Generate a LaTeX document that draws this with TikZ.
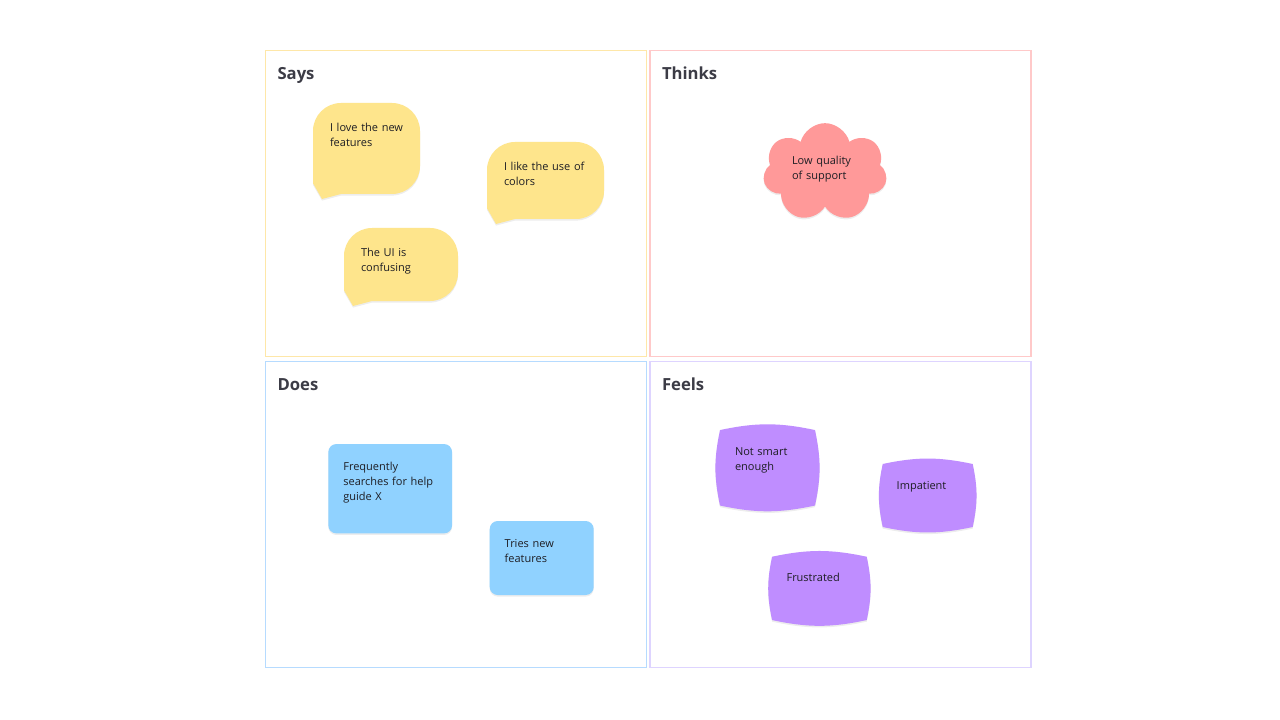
\documentclass[tikz,border=0pt]{standalone}
\usepackage{fontspec}
\setmainfont{Open Sans}
\usetikzlibrary{positioning,shapes.symbols,shadows}
\definecolor{sayfill}{RGB}{254,229,140}
\definecolor{sayline}{RGB}{254,231,168}
\definecolor{thinkfill}{RGB}{255,153,153}
\definecolor{thinkline}{RGB}{255,201,201}
\definecolor{dofill}{RGB}{144,210,255}
\definecolor{doline}{RGB}{182,219,255}
\definecolor{feelfill}{RGB}{191,141,255}
\definecolor{feelline}{RGB}{222,212,255}
\definecolor{headgray}{RGB}{60,60,70}
\definecolor{inkgray}{RGB}{30,30,36}

\begin{document}
\begin{tikzpicture}[x=0.75pt,y=-0.75pt,
    every node/.style={inner sep=0pt,outer sep=0pt},
    quad/.style={draw,line width=1.1pt,fill=white,
                 minimum width=285.75pt,minimum height=229.5pt},
    heading/.style={anchor=base west,text=headgray,
                    font=\fontsize{12.5}{15}\selectfont\bfseries},
    stickytext/.style={anchor=base west,text width=100pt,align=left,
                       text=inkgray,font=\fontsize{8.25}{11.25}\selectfont},
    lift/.style={drop shadow={shadow xshift=0pt,shadow yshift=-1.2pt,
                 fill=black,opacity=0.07}},
    bubble/.style={fill=sayfill,lift},
    note/.style={fill=dofill,rounded corners=6pt,lift},
    pillow/.style={fill=feelfill,lift}]

  \fill[white] (0,0) rectangle (1280,720);
  \useasboundingbox (0,0) rectangle (1280,720);

  % four quadrants
  \node[quad,draw=sayline]   (says)   at (456,203.5)   {};
  \node[quad,draw=thinkline] (thinks) at (840.5,203.5) {};
  \node[quad,draw=doline]    (does)   at (456,514.5)   {};
  \node[quad,draw=feelline]  (feels)  at (840.5,514.5) {};

  \node[heading] (saysT)   at ([shift={(12,29)}]says.north west)   {Says};
  \node[heading] (thinksT) at ([shift={(12,29)}]thinks.north west) {Thinks};
  \node[heading] (doesT)   at ([shift={(12,29)}]does.north west)   {Does};
  \node[heading] (feelsT)  at ([shift={(12,29)}]feels.north west)  {Feels};

  % says: speech bubbles
  \node[minimum width=80.25pt,minimum height=68.25pt] (say1) at (366.5,148.5) {};
  \node[minimum width=87.75pt,minimum height=57.75pt] (say2) at (545.5,180.5) {};
  \node[minimum width=85.5pt,minimum height=54.75pt]  (say3) at (401,264.5)   {};
  \fill[bubble] ([yshift=8pt]say1.south west) [rounded corners=21pt]
    -- (say1.north west) -- (say1.north east) -- (say1.south east)
    [sharp corners] -- ([xshift=21pt]say1.south west)
    -- ([xshift=6.75pt,yshift=-3.75pt]say1.south west) -- cycle;
  \fill[bubble] ([yshift=8pt]say2.south west) [rounded corners=21pt]
    -- (say2.north west) -- (say2.north east) -- (say2.south east)
    [sharp corners] -- ([xshift=21pt]say2.south west)
    -- ([xshift=6.75pt,yshift=-3.75pt]say2.south west) -- cycle;
  \fill[bubble] ([yshift=8pt]say3.south west) [rounded corners=21pt]
    -- (say3.north west) -- (say3.north east) -- (say3.south east)
    [sharp corners] -- ([xshift=21pt]say3.south west)
    -- ([xshift=6.75pt,yshift=-3.75pt]say3.south west) -- cycle;
  \node[stickytext] (say1T) at ([shift={(17,28.5)}]say1.north west) {I love the new\\features};
  \node[stickytext] (say2T) at ([shift={(17,28.5)}]say2.north west) {I like the use of\\colors};
  \node[stickytext] (say3T) at ([shift={(17,28.5)}]say3.north west) {The UI is\\confusing};

  % thinks: cloud
  \node[cloud,cloud puffs=7,aspect=1.3,fill=thinkfill,lift,
        minimum width=93pt,minimum height=74pt] (think1) at (825,172.5) {};
  \node[stickytext] (think1T) at ([shift={(-33,-7.5)}]think1.center) {Low quality\\of support};

  % does: notes
  \node[note,minimum width=92.8pt,minimum height=67pt] (do1) at (390.2,488.7) {};
  \node[note,minimum width=78pt,minimum height=55.5pt] (do2) at (541.7,558)   {};
  \node[stickytext] (do1T) at ([shift={(15,26)}]do1.north west) {Frequently\\searches for help\\guide X};
  \node[stickytext] (do2T) at ([shift={(15,26.5)}]do2.north west) {Tries new\\features};

  % feels: pillows
  \node[minimum width=71.25pt,minimum height=56.6pt] (feel1) at (767.5,467.8) {};
  \node[minimum width=67.5pt,minimum height=47.25pt] (feel2) at (927.7,495.5) {};
  \node[minimum width=71pt,minimum height=47.5pt]    (feel3) at (819.4,588.4) {};
  \fill[pillow] (feel1.north west) to[bend left=12] (feel1.north east)
    to[bend left=12] (feel1.south east) to[bend left=12] (feel1.south west)
    to[bend left=12] cycle;
  \fill[pillow] (feel2.north west) to[bend left=12] (feel2.north east)
    to[bend left=12] (feel2.south east) to[bend left=12] (feel2.south west)
    to[bend left=12] cycle;
  \fill[pillow] (feel3.north west) to[bend left=12] (feel3.north east)
    to[bend left=12] (feel3.south east) to[bend left=12] (feel3.south west)
    to[bend left=12] cycle;
  \node[stickytext] (feel1T) at ([shift={(15,25)}]feel1.north west) {Not smart\\enough};
  \node[stickytext] (feel2T) at ([shift={(14,25)}]feel2.north west) {Impatient};
  \node[stickytext] (feel3T) at ([shift={(14.5,25)}]feel3.north west) {Frustrated};
\end{tikzpicture}
\end{document}
